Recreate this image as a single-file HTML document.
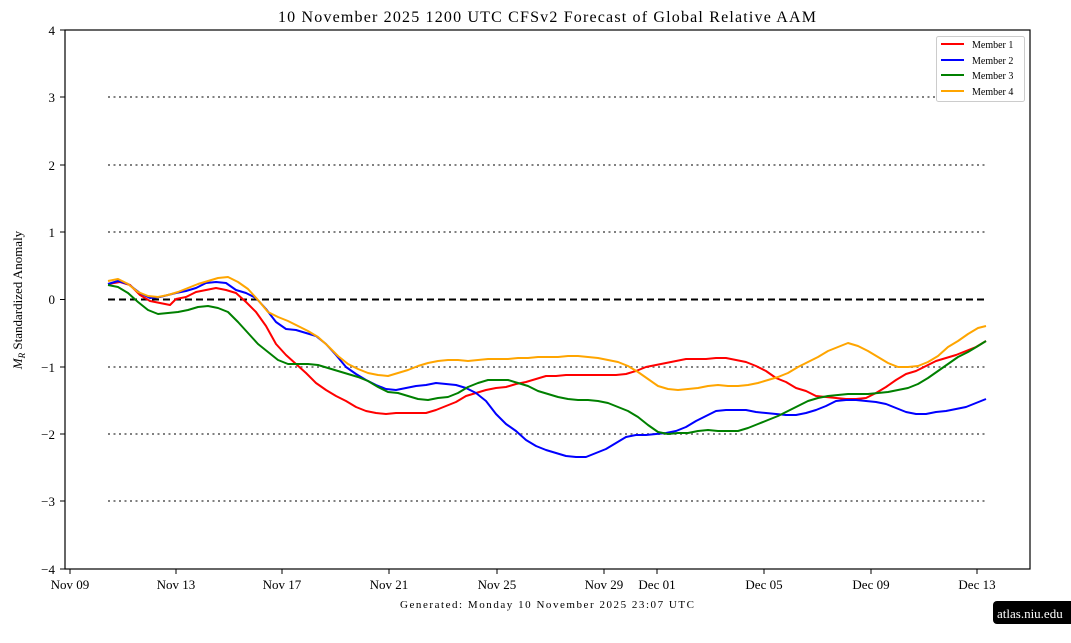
<!DOCTYPE html>
<html><head><meta charset="utf-8"><style>
body{margin:0;background:#fff;}
svg text{font-family:"Liberation Serif","DejaVu Serif",serif;fill:#000;}
</style></head><body>
<svg width="1071" height="638" viewBox="0 0 1071 638" xmlns="http://www.w3.org/2000/svg">
<rect width="1071" height="638" fill="#fff"/>
<text x="278" y="22" font-size="16" textLength="538" lengthAdjust="spacing">10  November  2025 1200 UTC   CFSv2 Forecast of Global Relative AAM</text>
<g stroke="#808080" stroke-width="2" stroke-dasharray="2,3.5">
<line x1="108" x2="986" y1="97" y2="97"/><line x1="108" x2="986" y1="165" y2="165"/><line x1="108" x2="986" y1="232" y2="232"/>
<line x1="108" x2="986" y1="367" y2="367"/><line x1="108" x2="986" y1="434" y2="434"/><line x1="108" x2="986" y1="501" y2="501"/>
</g>
<line x1="108" x2="986" y1="299.5" y2="299.5" stroke="#000" stroke-width="2" stroke-dasharray="7,4"/>
<g fill="none" stroke-width="2" stroke-linejoin="round">
<polyline stroke="red" points="108,284 120,282 130,285 140,295 150,301 160,303 170,305 176,299 186,297 196,292 206,290 216,288 226,290 236,293 246,302 256,312 266,326 276,344 286,355 296,364 306,373 316,383 326,390 336,396 346,401 356,407 366,411 376,413 386,414 396,413 406,413 416,413 426,413 436,410 446,406 456,402 466,396 476,393 486,390 496,388 506,387 516,384 526,382 536,379 546,376 556,376 566,375 576,375 586,375 596,375 606,375 616,375 626,374 636,371 646,367 656,365 666,363 676,361 686,359 696,359 706,359 716,358 726,358 736,360 746,362 756,366 766,371 776,378 786,382 796,388 806,391 816,396 826,397 836,398 846,399 856,399 866,398 876,393 886,387 896,380 906,374 916,371 926,366 936,361 946,358 956,355 966,351 976,347 986,341"/>
<polyline stroke="blue" points="108,284 118,281 128,284 140,293 150,298 160,297 176,293 186,291 196,288 206,283 216,282 226,283 236,290 246,293 256,298 266,309 276,322 286,329 296,330 306,333 316,336 326,344 336,355 346,367 356,374 366,380 376,385 386,389 396,390 406,388 416,386 426,385 436,383 446,384 456,385 466,388 476,393 486,401 496,414 506,424 516,431 526,440 536,446 546,450 556,453 566,456 576,457 586,457 596,453 606,449 616,443 626,437 636,435 646,435 656,434 666,433 676,431 686,427 696,421 706,416 716,411 726,410 736,410 746,410 756,412 766,413 776,414 786,415 796,415 806,413 816,410 826,406 836,401 846,400 856,400 866,401 876,402 886,404 896,408 906,412 916,414 926,414 936,412 946,411 956,409 966,407 976,403 986,399"/>
<polyline stroke="green" points="108,285 118,287 128,293 138,302 148,310 158,314 168,313 178,312 188,310 198,307 208,306 218,308 228,312 238,322 248,333 258,344 268,352 278,360 288,364 298,364 308,364 318,365 328,368 338,371 348,374 358,377 368,381 378,387 388,392 398,393 408,396 418,399 428,400 438,398 448,397 458,393 468,387 478,383 488,380 498,380 508,380 518,383 528,386 538,391 548,394 558,397 568,399 578,400 588,400 598,401 608,403 618,407 628,411 638,417 648,425 658,432 668,434 678,433 688,433 698,431 708,430 718,431 728,431 738,431 748,428 758,424 768,420 778,416 788,411 798,406 808,401 818,398 828,396 838,395 848,394 858,394 868,394 878,393 888,392 898,390 908,388 918,384 928,378 938,371 948,364 958,357 968,352 978,346 986,341"/>
<polyline stroke="orange" points="108,281 118,279 128,284 138,292 148,296 158,297 168,295 178,292 188,288 198,284 208,281 218,278 228,277 238,282 248,289 258,300 268,312 278,317 288,321 298,326 308,331 318,337 328,346 338,356 348,364 358,369 368,373 378,375 388,376 398,373 408,370 418,366 428,363 438,361 448,360 458,360 468,361 478,360 488,359 498,359 508,359 518,358 528,358 538,357 548,357 558,357 568,356 578,356 588,357 598,358 608,360 618,362 628,366 638,372 648,379 658,386 668,389 678,390 688,389 698,388 708,386 718,385 728,386 738,386 748,385 758,383 768,380 778,377 788,373 798,367 808,362 818,357 828,351 838,347 848,343 858,346 868,351 878,357 888,363 898,367 908,367 918,366 928,362 938,356 948,347 958,341 968,334 978,328 986,326"/>
</g>
<rect x="65" y="30" width="965" height="539" fill="none" stroke="#000" stroke-width="1.2"/>
<g stroke="#000" stroke-width="1">
<line x1="60" x2="65" y1="30" y2="30"/><line x1="60" x2="65" y1="97" y2="97"/><line x1="60" x2="65" y1="165" y2="165"/><line x1="60" x2="65" y1="232" y2="232"/><line x1="60" x2="65" y1="299.5" y2="299.5"/><line x1="60" x2="65" y1="367" y2="367"/><line x1="60" x2="65" y1="434" y2="434"/><line x1="60" x2="65" y1="501" y2="501"/><line x1="60" x2="65" y1="569" y2="569"/>
<line x1="70" x2="70" y1="569" y2="574"/><line x1="176" x2="176" y1="569" y2="574"/><line x1="282" x2="282" y1="569" y2="574"/><line x1="389" x2="389" y1="569" y2="574"/><line x1="497" x2="497" y1="569" y2="574"/><line x1="604" x2="604" y1="569" y2="574"/><line x1="657" x2="657" y1="569" y2="574"/><line x1="764" x2="764" y1="569" y2="574"/><line x1="871" x2="871" y1="569" y2="574"/><line x1="977" x2="977" y1="569" y2="574"/>
</g>
<g font-size="13" text-anchor="end">
<text x="55" y="35">4</text><text x="55" y="102">3</text><text x="55" y="170">2</text><text x="55" y="237">1</text><text x="55" y="304">0</text><text x="55" y="372">−1</text><text x="55" y="439">−2</text><text x="55" y="506">−3</text><text x="55" y="574">−4</text>
</g>
<g font-size="13" text-anchor="middle">
<text x="70" y="589">Nov 09</text><text x="176" y="589">Nov 13</text><text x="282" y="589">Nov 17</text><text x="389" y="589">Nov 21</text><text x="497" y="589">Nov 25</text><text x="604" y="589">Nov 29</text><text x="657" y="589">Dec 01</text><text x="764" y="589">Dec 05</text><text x="871" y="589">Dec 09</text><text x="977" y="589">Dec 13</text>
</g>
<text x="400" y="608" font-size="11" textLength="294" lengthAdjust="spacing">Generated: Monday  10  November  2025  23:07 UTC</text>
<text transform="translate(22,300) rotate(-90)" font-size="13" text-anchor="middle"><tspan font-style="italic">M</tspan><tspan font-size="9" font-style="italic" dy="3">R</tspan><tspan dy="-3"> Standardized Anomaly</tspan></text>
<rect x="936.5" y="36.5" width="88" height="65" rx="2" fill="#fff" stroke="#ccc"/>
<g stroke-width="2"><line x1="941" x2="964" y1="44" y2="44" stroke="red"/><line x1="941" x2="964" y1="60" y2="60" stroke="blue"/><line x1="941" x2="964" y1="75" y2="75" stroke="green"/><line x1="941" x2="964" y1="91" y2="91" stroke="orange"/></g>
<g font-size="10"><text x="972" y="48">Member 1</text><text x="972" y="64">Member 2</text><text x="972" y="79">Member 3</text><text x="972" y="95">Member 4</text></g>
<rect x="993" y="601" width="85" height="23" rx="4" fill="#000"/>
<text x="997" y="618" font-size="13" style="fill:#fff">atlas.niu.edu</text>
</svg>
</body></html>
